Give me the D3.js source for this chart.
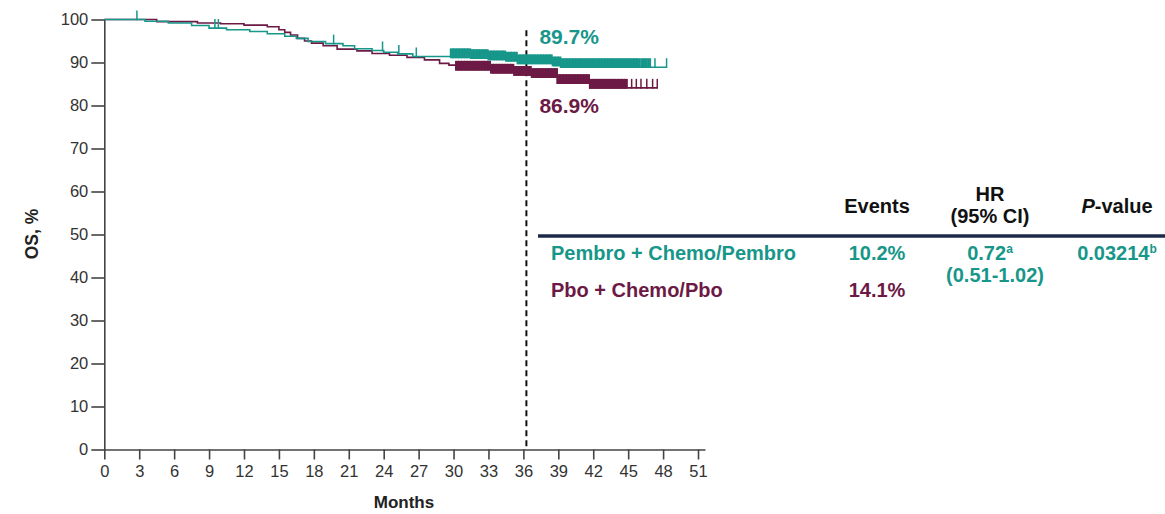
<!DOCTYPE html>
<html>
<head>
<meta charset="utf-8">
<script src="https://cdn.jsdelivr.net/npm/d3@7"></script>
<style>
  html, body { margin: 0; padding: 0; background: #fff; }
  svg { display: block; font-family: "Liberation Sans", Arial, sans-serif; }
</style>
</head>
<body>
<svg id="chart" width="1165" height="514"></svg>
<script>
// ---------------- DATA ----------------
const xTicks = [0, 3, 6, 9, 12, 15, 18, 21, 24, 27, 30, 33, 36, 39, 42, 45, 48, 51];
const yTicks = [0, 10, 20, 30, 40, 50, 60, 70, 80, 90, 100];

// Pembro + Chemo/Pembro (event times, months / survival, %)
const pembroTime = [0, 3.5, 5.5, 7.5, 9, 10.5, 12.5, 14, 15.5, 16.5, 17.5, 19, 20.5, 21.5, 23, 24, 25.2, 26.5, 29.8, 31.5, 33, 34.5, 35.5, 38.6, 39.2];
const pembroSurv = [100, 99.6, 99.2, 98.6, 98.0, 97.6, 97.2, 96.7, 96.1, 95.6, 94.9, 94.4, 93.9, 93.2, 92.8, 92.4, 92.0, 91.4, 91.2, 91.0, 90.7, 90.4, 89.8, 89.3, 88.9];
const pembroEnd = 48.3;
const pembroCensor = [2.8, 9.5, 9.8, 19.7, 23.9, 25.3, 26.8,
  29.85, 30.1, 30.35, 30.6, 30.85, 31.1, 31.35, 31.6, 31.85, 32.1, 32.35, 32.6, 32.85, 33.1, 33.35, 33.6, 33.85,
  34.1, 34.35, 34.6, 34.85, 35.1, 35.35, 35.6, 35.85, 36.1, 36.35, 36.6, 36.85, 37.1, 37.35, 37.6, 37.85,
  38.1, 38.35, 38.6, 38.85, 39.1, 39.35, 39.6, 39.85, 40.1, 40.35, 40.6, 40.85, 41.1, 41.35, 41.6, 41.85,
  42.1, 42.35, 42.6, 42.85, 43.1, 43.35, 43.6, 43.85, 44.1, 44.35, 44.6, 44.85, 45.1, 45.35, 45.6, 45.85,
  46.2, 46.5, 46.8, 47.3, 48.3];

// Pbo + Chemo/Pbo
const pboTime = [0, 4.5, 8, 10, 12, 14, 15, 15.5, 16, 16.6, 17.2, 17.8, 18.8, 20, 21.7, 23, 24.5, 26, 27.5, 28.8, 29.6, 30.2, 33.3, 35.2, 36.8, 38.9, 41.7];
const pboSurv = [100, 99.5, 99.2, 99.0, 98.7, 98.3, 97.6, 97.0, 96.4, 95.6, 95.0, 94.5, 93.9, 93.1, 92.7, 92.1, 91.7, 91.2, 90.6, 89.8, 89.4, 88.3, 87.6, 87.1, 86.6, 85.2, 84.1];
const pboEnd = 47.5;
const pboCensor = [
  30.3, 30.55, 30.8, 31.05, 31.3, 31.55, 31.8, 32.05, 32.3, 32.55, 32.8, 33.05, 33.3, 33.55, 33.8,
  34.05, 34.3, 34.55, 34.8, 35.05, 35.3, 35.55, 35.8, 36.05, 36.3, 36.55, 36.8, 37.05, 37.3, 37.55, 37.8,
  38.05, 38.3, 38.55, 38.8, 39.05, 39.3, 39.55, 39.8, 40.05, 40.3, 40.55, 40.8, 41.05, 41.3, 41.55, 41.8,
  42.05, 42.3, 42.55, 42.8, 43.05, 43.3, 43.55, 43.8, 44.05, 44.3, 44.55, 44.8,
  45.3, 45.7, 46.1, 46.6, 47.1, 47.5];

const landmark = 36;
const landmarkLabels = ["89.7%", "86.9%"];

const tableHeaders = ["Events", "HR", "(95% CI)", "P-value"];
const rowNames = ["Pembro + Chemo/Pembro", "Pbo + Chemo/Pbo"];
const rowEvents = ["10.2%", "14.1%"];
const hrValue = "0.72", hrCI = "(0.51-1.02)", pValue = "0.03214";

// ---------------- STYLE ----------------
const TEAL = "#17968a";
const PURPLE = "#6c1a45";
const AXIS = "#444";
const FONT = "'Liberation Sans', Arial, sans-serif";

const svg = d3.select("#chart");

const x = d3.scaleLinear().domain([0, 51.6]).range([104.3, 705]);
const y = d3.scaleLinear().domain([0, 100]).range([449.5, 19.5]);

// Y axis
const yAxis = svg.append("g").attr("transform", `translate(${x(0)},0)`)
  .call(d3.axisLeft(y).tickValues(yTicks).tickSize(13).tickPadding(3).tickSizeOuter(0));
yAxis.select(".domain").attr("stroke", AXIS).attr("stroke-width", 1.6);
yAxis.selectAll(".tick line").attr("stroke", AXIS).attr("stroke-width", 1.6);
yAxis.selectAll(".tick text").attr("fill", "#333").style("font-size", "16.5px").style("font-family", FONT);

// X axis
const xAxis = svg.append("g").attr("transform", `translate(0,${y(0)})`)
  .call(d3.axisBottom(x).tickValues(xTicks).tickSize(10).tickPadding(6).tickSizeOuter(0));
xAxis.select(".domain").attr("stroke", AXIS).attr("stroke-width", 1.6);
xAxis.selectAll(".tick line").attr("stroke", AXIS).attr("stroke-width", 1.6);
xAxis.selectAll(".tick text").attr("fill", "#333").style("font-size", "16.5px").style("font-family", FONT);

// Axis titles
svg.append("text").attr("x", 404).attr("y", 508).attr("text-anchor", "middle")
  .style("font-weight", "bold").style("font-size", "17px").attr("fill", "#222").text("Months");
svg.append("text").attr("transform", `translate(38,234) rotate(-90)`).attr("text-anchor", "middle")
  .style("font-weight", "bold").style("font-size", "17.5px").attr("fill", "#222").text("OS, %");

// Landmark dashed line
svg.append("line")
  .attr("x1", x(landmark) + 3).attr("x2", x(landmark) + 3)
  .attr("y1", y(97.5)).attr("y2", y(0))
  .attr("stroke", "#111").attr("stroke-width", 2).attr("stroke-dasharray", "6,4");

// KM curves
function drawArm(times, surv, end, censor, color) {
  const pts = times.map((t, i) => [t, surv[i]]);
  pts.push([end, surv[surv.length - 1]]);
  const line = d3.line().x(d => x(d[0])).y(d => y(d[1])).curve(d3.curveStepAfter);
  svg.append("path").datum(pts).attr("d", line)
    .attr("fill", "none").attr("stroke", color).attr("stroke-width", 1.6);
  const survAt = t => {
    let s = surv[0];
    for (let i = 0; i < times.length; i++) if (times[i] <= t) s = surv[i];
    return s;
  };
  svg.append("g").selectAll("line").data(censor).join("line")
    .attr("x1", d => x(d)).attr("x2", d => x(d))
    .attr("y1", d => y(survAt(d)) + 0.8)
    .attr("y2", d => y(survAt(d)) - 9)
    .attr("stroke", color)
    .attr("stroke-width", (d, i) => {
      const prev = i > 0 ? d - censor[i - 1] : 99;
      const next = i < censor.length - 1 ? censor[i + 1] - d : 99;
      return Math.min(prev, next) <= 0.3 ? 4 : 1.5;
    });
}
drawArm(pboTime, pboSurv, pboEnd, pboCensor, PURPLE);
drawArm(pembroTime, pembroSurv, pembroEnd, pembroCensor, TEAL);

// Landmark labels
svg.append("text").attr("x", x(landmark) + 16).attr("y", 44)
  .style("font-weight", "bold").style("font-size", "21px").attr("fill", TEAL).text(landmarkLabels[0]);
svg.append("text").attr("x", x(landmark) + 16).attr("y", 113)
  .style("font-weight", "bold").style("font-size", "21px").attr("fill", PURPLE).text(landmarkLabels[1]);

// Table
const T = svg.append("g").style("font-weight", "bold").style("font-size", "20px");
const colEvents = 877, colHR = 990, colP = 1117;
T.append("text").attr("x", colEvents).attr("y", 213).attr("text-anchor", "middle").attr("fill", "#111").text(tableHeaders[0]);
T.append("text").attr("x", colHR).attr("y", 201).attr("text-anchor", "middle").attr("fill", "#111").text(tableHeaders[1]);
T.append("text").attr("x", colHR).attr("y", 223).attr("text-anchor", "middle").attr("fill", "#111").text(tableHeaders[2]);
const pv = T.append("text").attr("x", colP).attr("y", 213).attr("text-anchor", "middle").attr("fill", "#111");
pv.append("tspan").style("font-style", "italic").text(tableHeaders[3].slice(0, 1));
pv.append("tspan").text(tableHeaders[3].slice(1));

svg.append("line").attr("x1", 538).attr("x2", 1165).attr("y1", 236).attr("y2", 236)
  .attr("stroke", "#1c2a4a").attr("stroke-width", 3.5);

T.append("text").attr("x", 551).attr("y", 260).attr("fill", TEAL).text(rowNames[0]);
T.append("text").attr("x", 551).attr("y", 297).attr("fill", PURPLE).text(rowNames[1]);
T.append("text").attr("x", colEvents).attr("y", 260).attr("text-anchor", "middle").attr("fill", TEAL).text(rowEvents[0]);
T.append("text").attr("x", colEvents).attr("y", 297).attr("text-anchor", "middle").attr("fill", PURPLE).text(rowEvents[1]);
const hr = T.append("text").attr("x", colHR).attr("y", 260).attr("text-anchor", "middle").attr("fill", TEAL);
hr.append("tspan").text(hrValue);
hr.append("tspan").attr("dy", -7).style("font-size", "12px").text("a");
T.append("text").attr("x", colHR + 5).attr("y", 282).attr("text-anchor", "middle").attr("fill", TEAL).text(hrCI);
const p = T.append("text").attr("x", colP).attr("y", 260).attr("text-anchor", "middle").attr("fill", TEAL);
p.append("tspan").text(pValue);
p.append("tspan").attr("dy", -7).style("font-size", "12px").text("b");
</script>
</body>
</html>
